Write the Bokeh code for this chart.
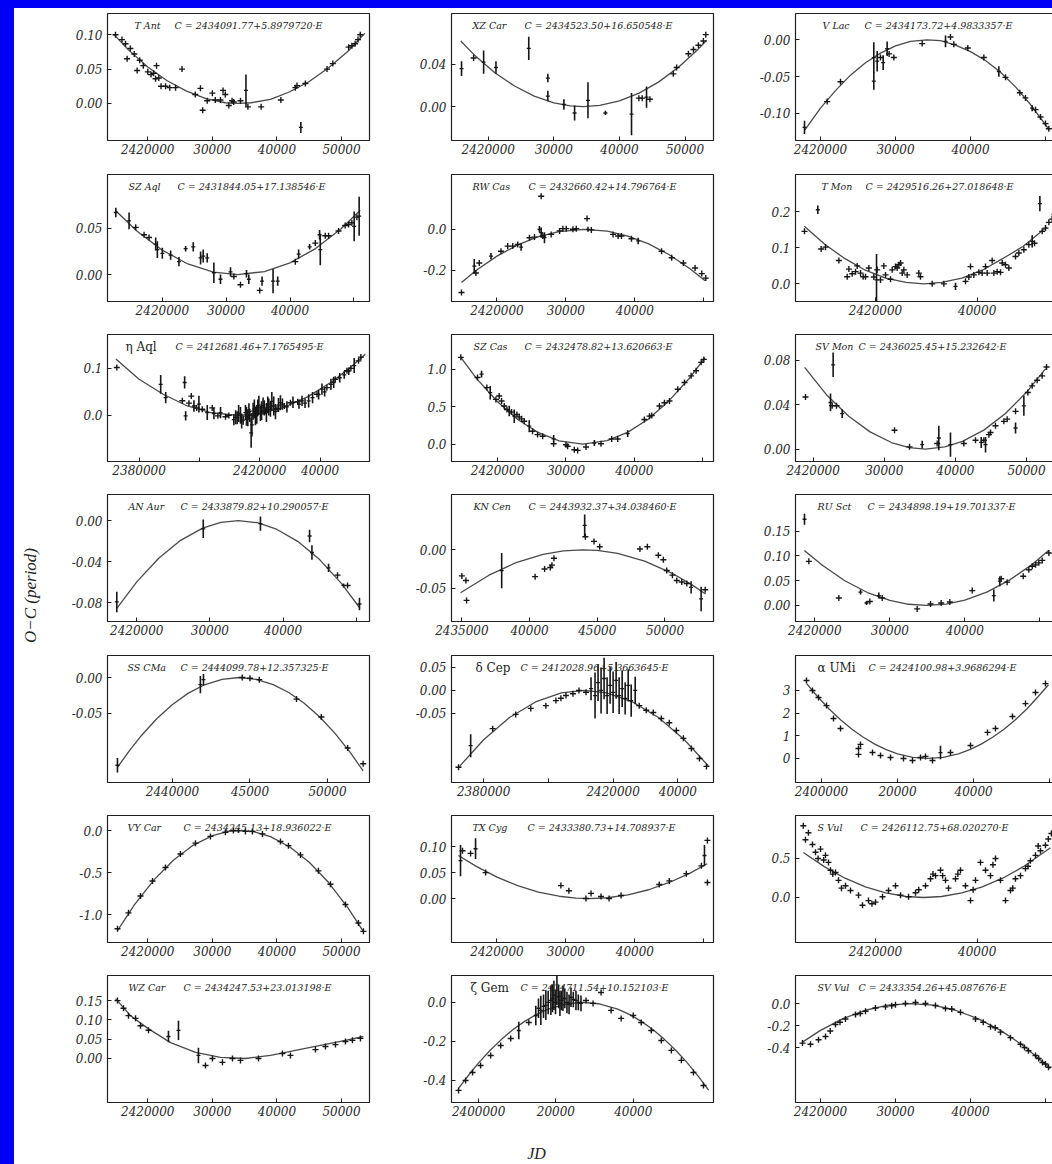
import math
from bokeh.plotting import figure
from bokeh.models import Range1d, FixedTicker, Label
from bokeh.layouts import row, column
from bokeh.embed import file_html
from bokeh.resources import INLINE

# ---------------- data (JD values are JD - 2400000) ----------------
TANT_JD = [15000,16000,16550,16800,17300,17900,18350,18750,19300,20000,20500,20900,21200,21350,21700,22050,22750,23400,24300,25300,27350,28150,28500,29200,30000,30450,31250,31650,32000,32550,33050,33300,34350,35500,37550,40600,42850,43100,44400,47750,48650,51100,51600,52100,52550,52900]
TANT_OC = [0.100,0.093,0.087,0.065,0.080,0.072,0.048,0.063,0.055,0.046,0.042,0.044,0.036,0.055,0.037,0.025,0.025,0.023,0.023,0.050,0.013,0.022,-0.010,0.004,0.015,0.005,0.005,0.019,0.013,-0.003,0.004,0.002,0.004,-0.005,-0.005,0.005,0.023,0.026,0.029,0.050,0.058,0.082,0.084,0.087,0.093,0.100]
TANT_BJD = [35200, 43700]
TANT_BOC = [0.019, -0.035]
TANT_BERR = [0.023, 0.008]
TANT_FJD = [14700,17000,20000,23000,26000,29000,32000,34100,36000,39000,42000,45000,48000,51000,53600]
TANT_FOC = [0.101,0.078,0.053,0.033,0.018,0.007,0.001,0.000,0.001,0.006,0.017,0.032,0.052,0.076,0.102]

XZCAR_JD = [17760,42960,43470,44640,48210,48720,50510,51280,52040,52800,53160]
XZCAR_OC = [0.046,0.008,0.008,0.007,0.031,0.037,0.050,0.054,0.058,0.062,0.068]
XZCAR_BJD = [15920,19290,21170,26170,29080,29080,31530,33160,35200,37860,41840,44130]
XZCAR_BOC = [0.036,0.042,0.037,0.055,0.027,0.010,0.002,-0.006,0.006,-0.006,-0.007,0.009]
XZCAR_BERR = [0.007,0.011,0.006,0.011,0.004,0.005,0.005,0.007,0.017,0.002,0.020,0.010]
XZCAR_FJD = [15800,18000,21000,24000,27000,30000,32500,34500,37000,40000,43000,46000,49000,52000,53300]
XZCAR_FOC = [0.062,0.048,0.032,0.0195,0.010,0.0036,0.0007,0.0,0.0011,0.0054,0.0128,0.0234,0.0373,0.0543,0.0627]

VLAC_JD = [20890,22670,28000,29150,29780,33560,37330,37780,39640,41780,44670,46580,47330,48670,49330,50000,50440]
VLAC_OC = [-0.084,-0.057,-0.024,-0.019,-0.024,-0.005,0.004,-0.006,-0.011,-0.024,-0.051,-0.072,-0.079,-0.095,-0.105,-0.114,-0.121]
VLAC_BJD = [17870,27110,27110,27560,28360,28890,36670,43780,48220]
VLAC_BOC = [-0.119,-0.056,-0.024,-0.029,-0.031,-0.012,-0.002,-0.043,-0.093]
VLAC_BERR = [0.009,0.012,0.021,0.014,0.010,0.010,0.008,0.007,0.004]
VLAC_FJD = [17900,20000,22000,24000,26000,28000,30000,32000,34200,36000,38000,40000,42000,44000,46000,48000,50400]
VLAC_FOC = [-0.123,-0.093,-0.069,-0.048,-0.031,-0.018,-0.008,-0.002,0.0,-0.001,-0.007,-0.016,-0.028,-0.044,-0.064,-0.088,-0.121]

SZAQL_JD = [15830,17140,17920,31200,32240,35260,40830,43960,45520,46040,47600,48640,49170,49690,50470]
SZAQL_OC = [0.051,0.043,0.040,-0.002,-0.011,-0.017,0.014,0.034,0.042,0.042,0.047,0.053,0.054,0.056,0.062]
SZAQL_BJD = [12710,14790,18960,19220,20000,21300,22600,23650,24840,25990,26400,27030,28070,29110,30680,33180,33540,35620,37340,38070,41350,43070,44630,44740,50050,50830]
SZAQL_BOC = [0.067,0.058,0.033,0.027,0.023,0.021,0.014,0.028,0.030,0.018,0.020,0.018,0.002,-0.005,0.003,0.001,-0.005,-0.007,-0.007,-0.007,0.022,0.030,0.043,0.027,0.052,0.063]
SZAQL_BERR = [0.005,0.009,0.007,0.009,0.006,0.005,0.005,0.003,0.005,0.007,0.007,0.005,0.011,0.005,0.005,0.004,0.005,0.005,0.013,0.005,0.005,0.003,0.005,0.017,0.016,0.021]
SZAQL_FJD = [12700,16000,20000,24000,28000,31800,36000,40000,44000,48000,51000]
SZAQL_FOC = [0.0688,0.0471,0.0263,0.0115,0.0027,0.0,0.0033,0.0127,0.0281,0.0495,0.0695]

RWCAS_JD = [14850,16940,17430,20580,21550,22280,23010,24710,25440,26650,26410,27860,29080,29560,30050,31020,31500,33060,33690,36840,37570,38060,39510,43880,45340,47040,48740,49710,50290]
RWCAS_OC = [-0.308,-0.213,-0.164,-0.107,-0.082,-0.082,-0.074,-0.041,-0.038,-0.033,0.161,-0.025,-0.008,0.003,0.003,0.0,0.003,0.052,-0.003,-0.025,-0.033,-0.033,-0.046,-0.107,-0.139,-0.164,-0.189,-0.216,-0.238]
RWCAS_BJD = [16700,19130,23500,26160,26410,26890,33200,40480]
RWCAS_BOC = [-0.180,-0.131,-0.087,0.0,-0.016,-0.041,0.0,-0.057]
RWCAS_BERR = [0.035,0.015,0.018,0.016,0.025,0.027,0.012,0.016]
RWCAS_FJD = [14850,17000,20000,23000,26000,29000,32660,36000,39000,42000,45000,48000,50200]
RWCAS_FOC = [-0.259,-0.200,-0.131,-0.076,-0.036,-0.011,0.0,-0.009,-0.033,-0.071,-0.124,-0.192,-0.251]

TMON_JD = [6030,9310,10160,12790,14430,14760,15410,16070,16390,17050,17570,18030,18690,19670,20330,20980,21640,21970,22950,23280,23930,24260,24590,24920,25250,25570,26230,28520,28850,31150,33440,37700,38360,38690,39340,40330,40980,41640,41970,42950,43280,43930,44590,44920,45570,46230,47540,48200,49180,50160,51280,52790,53440,54100,54750,55210]
TMON_OC = [0.146,0.097,0.102,0.065,0.020,0.041,0.028,0.034,0.050,0.030,0.020,0.020,0.044,0.019,0.039,0.011,0.050,0.025,0.013,0.039,0.048,0.044,0.053,0.058,0.030,0.039,0.025,0.030,0.020,0.000,0.000,0.007,0.019,0.048,0.025,0.032,0.030,0.048,0.030,0.065,0.030,0.034,0.032,0.058,0.053,0.044,0.076,0.086,0.095,0.109,0.113,0.146,0.155,0.171,0.180,0.193]
TMON_BJD = [8650,20200,35740,50820,52330]
TMON_BOC = [0.206,0.011,-0.007,0.118,0.223]
TMON_BERR = [0.012,0.072,0.010,0.017,0.021]
TMON_FJD = [6000,10000,14000,18000,22000,26000,29500,33000,37000,41000,45000,49000,53700]
TMON_FOC = [0.160,0.110,0.070,0.038,0.016,0.004,0.0,0.004,0.016,0.038,0.070,0.104,0.158]

EAQL_JD = [-27380,-5670,-3470,-2700,-930,940,4240,6120,8650,9750,21880,25730,28160,30140,32570,38960,42260,45020,48880,50200,52730,53510]
EAQL_OC = [0.102,0.031,0.026,0.041,0.016,0.013,0.016,-0.001,-0.003,0.0,0.009,0.014,0.020,0.027,0.029,0.045,0.059,0.077,0.095,0.100,0.116,0.124]
EAQL_BJD = [-12840,-11180,-4900,-4570,-1820,-170,2590,4800,7000,11410,12510,13610,14490,15260,16040,16700,17140,17800,18570,19340,20220,21100,22650,23530,24630,26840,34000,36200,40610,43590,51300,
            12000,13000,14000,15600,16400,17400,18200,19000,19700,20600,21500,22200,23000,24000,25200,26200,27500,29000,31000,33000,35000,37500,39500,41500,44500,46500,48000,49500]
EAQL_BOC = [0.066,0.038,0.070,-0.001,0.020,0.024,0.006,0.004,0.006,-0.009,-0.005,0.0,-0.010,0.006,-0.005,0.0,-0.037,0.009,-0.001,0.016,0.004,0.020,0.024,0.013,0.020,0.027,0.031,0.031,0.056,0.066,0.106,
            -0.004,0.004,-0.012,-0.002,0.008,-0.020,0.014,0.002,0.022,0.010,0.016,0.006,0.018,0.030,0.008,0.022,0.024,0.018,0.028,0.024,0.026,0.038,0.044,0.050,0.070,0.080,0.086,0.094]
EAQL_BERR = [0.020,0.012,0.013,0.010,0.012,0.018,0.016,0.012,0.012,0.012,0.014,0.018,0.010,0.016,0.018,0.014,0.032,0.018,0.020,0.018,0.016,0.018,0.016,0.016,0.020,0.016,0.011,0.014,0.012,0.012,0.016,
             0.015,0.018,0.016,0.020,0.018,0.025,0.020,0.020,0.020,0.020,0.016,0.020,0.018,0.020,0.016,0.015,0.012,0.012,0.012,0.010,0.010,0.012,0.010,0.010,0.012,0.010,0.008,0.008]
EAQL_FJD = [-27700,-20000,-12000,-4000,4000,12700,20000,28000,36000,44000,50000,55000]
EAQL_FOC = [0.120,0.077,0.045,0.020,0.0056,0.0,0.0039,0.017,0.040,0.072,0.102,0.130]

SZCAS_JD = [14630,17070,18440,19760,20240,20590,20980,21370,22050,22830,23170,23510,23900,25120,25850,26590,28200,30000,30240,31220,31710,32930,35120,36680,37560,41460,42200,42540,43660,44390,45120,46340,47320,48290,49020,49760,50150]
SZCAS_OC = [1.157,0.888,0.753,0.596,0.641,0.574,0.507,0.462,0.426,0.395,0.363,0.336,0.305,0.170,0.126,0.103,0.004,-0.010,-0.030,-0.076,-0.085,-0.040,0.004,0.067,0.067,0.327,0.372,0.381,0.507,0.552,0.574,0.731,0.821,0.910,0.978,1.090,1.130]
SZCAS_BJD = [17660,18930,21710,22440,24630,28200,34150,39020]
SZCAS_BOC = [0.933,0.686,0.440,0.372,0.238,0.070,0.013,0.139]
SZCAS_BERR = [0.045,0.09,0.07,0.09,0.08,0.05,0.04,0.045]
SZCAS_FJD = [14600,17000,20000,23000,26000,29000,32450,36000,39000,42000,45000,48000,50300]
SZCAS_FOC = [1.16,0.866,0.565,0.324,0.151,0.043,0.0,0.046,0.156,0.331,0.572,0.875,1.15]

SVMON_JD = [18920,22670,23280,31440,33550,37440,41190,42830,44000,44710,44940,45640,46820,47280,48460,50190,50800,51500,52200,52820]
SVMON_OC = [0.047,0.039,0.039,0.017,0.002,0.005,0.005,0.008,0.008,0.013,0.015,0.021,0.025,0.027,0.034,0.051,0.057,0.062,0.066,0.074]
SVMON_BJD = [22810,22440,24080,35330,37670,39310,43630,44240,48460,49630]
SVMON_BOC = [0.076,0.042,0.032,0.004,0.010,0.004,0.006,0.004,0.019,0.039]
SVMON_BERR = [0.011,0.008,0.004,0.0035,0.011,0.011,0.005,0.007,0.005,0.009]
SVMON_FJD = [18800,22000,25000,28000,31000,33500,35800,38500,41000,44000,47000,50000,52700]
SVMON_FOC = [0.0736,0.048,0.0296,0.0155,0.0059,0.0013,0.0,0.0019,0.0069,0.0171,0.0319,0.0512,0.0726]

ANAUR_JD = [47450,48820]
ANAUR_OC = [-0.053,-0.063]
ANAUR_BJD = [17270,29090,36910,43630,43950,46220,48270,50450]
ANAUR_BOC = [-0.079,-0.008,-0.003,-0.015,-0.031,-0.046,-0.063,-0.081]
ANAUR_BERR = [0.010,0.009,0.007,0.006,0.007,0.004,0.002,0.006]
ANAUR_FJD = [17300,20000,23000,26000,29000,31500,33900,36500,39000,42000,45000,48000,50500]
ANAUR_FOC = [-0.085,-0.0595,-0.0366,-0.0192,-0.0074,-0.0018,0.0,-0.0021,-0.0080,-0.0202,-0.0379,-0.0612,-0.0849]

KNCEN_JD = [35000,35300,35350,40410,41110,41530,41650,41800,44120,44760,45180,48150,48700,49510,49880,50130,50550,50870,51240,51610,52970]
KNCEN_OC = [-0.034,-0.040,-0.066,-0.035,-0.025,-0.023,-0.020,-0.011,0.017,0.011,0.004,0.001,0.004,-0.007,-0.013,-0.027,-0.033,-0.040,-0.042,-0.044,-0.052]
KNCEN_BJD = [37940,44070,51930,52670]
KNCEN_BOC = [-0.027,0.032,-0.049,-0.064]
KNCEN_BERR = [0.023,0.014,0.008,0.016]
KNCEN_FJD = [34900,37000,39000,41000,42500,43900,45000,46500,48500,50500,52000,53000]
KNCEN_FOC = [-0.056,-0.0331,-0.0167,-0.0059,-0.0014,0.0,-0.0008,-0.0047,-0.0147,-0.0303,-0.0457,-0.0576]

RUSCT_JD = [19200,23200,27330,28980,33640,35420,36840,38000,40980,44840,45640,47780,48530,48980,49420,49860,50310,51200]
RUSCT_OC = [0.089,0.015,0.008,0.015,-0.007,0.003,0.005,0.007,0.030,0.054,0.047,0.059,0.072,0.079,0.082,0.086,0.091,0.106]
RUSCT_BJD = [18620,26090,26890,28530,43860,44660]
RUSCT_BOC = [0.174,0.027,0.005,0.020,0.020,0.049]
RUSCT_BERR = [0.011,0.005,0.004,0.006,0.012,0.010]
RUSCT_FJD = [18600,21000,24000,27000,30000,32500,34900,37500,40000,43000,46000,49000,51200]
RUSCT_FOC = [0.111,0.081,0.0498,0.0261,0.0101,0.0024,0.0,0.0028,0.0109,0.0275,0.0516,0.0833,0.1113]

SSCMA_JD = [44500,45000,45600,48000,49600,51300,52300]
SSCMA_OC = [0.000,-0.001,-0.003,-0.030,-0.055,-0.098,-0.120]
SSCMA_BJD = [36450,41800,42000]
SSCMA_BOC = [-0.122,-0.010,-0.003]
SSCMA_BERR = [0.010,0.012,0.008]
SSCMA_FJD = [36450,37200,38000,39000,40000,41000,42000,43200,44300,45400,46500,47500,48500,49500,50500,51500,52300]
SSCMA_FOC = [-0.125,-0.1023,-0.0806,-0.0570,-0.0375,-0.0221,-0.0107,-0.0025,0.0,-0.0025,-0.0098,-0.0208,-0.0358,-0.0549,-0.078,-0.1052,-0.130]

DCEP_JD = [-27750,-17200,-10100,-5430,-780,2320,3870,5420,7590,9450,11620,28050,30220,32390,34870,37350,39520,41690,44170,46650,48820]
DCEP_OC = [-0.167,-0.083,-0.052,-0.039,-0.033,-0.022,-0.017,-0.011,-0.007,0.0,-0.004,-0.033,-0.043,-0.048,-0.061,-0.070,-0.087,-0.104,-0.126,-0.148,-0.165]
DCEP_BJD = [-24000,13170,14410,15340,16270,17200,18130,19060,19990,20920,21850,22780,23710,24640,25570,26810]
DCEP_BOC = [-0.120,0.004,-0.011,0.017,0.0,0.026,-0.011,0.011,-0.004,0.022,-0.011,0.004,-0.017,0.011,-0.022,0.0]
DCEP_BERR = [0.025,0.025,0.050,0.040,0.050,0.045,0.040,0.040,0.045,0.040,0.040,0.040,0.035,0.035,0.035,0.030]
DCEP_FJD = [-27700,-20000,-12000,-4000,4000,11000,18000,26000,34000,42000,49400]
DCEP_FOC = [-0.167,-0.107,-0.0588,-0.025,-0.0054,0.0,-0.0054,-0.025,-0.0588,-0.107,-0.164]

AUMI_JD = [-3950,-2370,-790,1320,3160,5000,9730,9730,10260,13410,15520,18150,21570,23930,26040,27350,29190,33930,39190,43660,45760,50230,53650,56280,58910]
AUMI_OC = [3.44,3.0,2.69,2.33,1.76,1.32,0.44,0.18,0.62,0.26,0.13,0.04,0.0,-0.09,0.04,0.09,-0.09,0.26,0.57,1.15,1.32,1.85,2.42,2.91,3.30]
AUMI_BJD = [31300]
AUMI_BOC = [0.26]
AUMI_BERR = [0.30]
AUMI_FJD = [-3900,-1000,2000,5000,8000,11000,14000,17000,20000,24000,28000,32000,36000,39000,42000,45000,48000,51000,54000,57000,59700]
AUMI_FOC = [3.30,2.72,2.18,1.71,1.29,0.933,0.633,0.391,0.207,0.052,0.0,0.052,0.207,0.391,0.633,0.933,1.29,1.71,2.18,2.73,3.25]

VYCAR_JD = [15310,17010,18870,20730,22740,25060,27380,29700,32020,33260,35120,36200,37750,40540,41780,43640,46420,48280,50600,52620,53390]
VYCAR_OC = [-1.17,-0.98,-0.78,-0.60,-0.44,-0.28,-0.15,-0.07,-0.02,0.00,-0.01,-0.01,-0.04,-0.13,-0.18,-0.29,-0.48,-0.64,-0.88,-1.10,-1.20]
VYCAR_BJD = [34040]
VYCAR_BOC = [0.0]
VYCAR_BERR = [0.03]
VYCAR_FJD = [15300,18000,21000,24000,27000,30000,32500,34300,36500,39000,42000,45000,48000,51000,53400]
VYCAR_FOC = [-1.191,-0.877,-0.584,-0.350,-0.176,-0.061,-0.0107,0.0,-0.016,-0.073,-0.196,-0.378,-0.619,-0.920,-1.204]

TXCYG_JD = [15000,16170,18350,29270,30430,32910,33640,35090,36260,38000,43540,45000,47470,49660,50530,50530]
TXCYG_OC = [0.092,0.087,0.050,0.025,0.015,0.000,0.010,0.004,0.000,0.006,0.027,0.034,0.048,0.063,0.112,0.031]
TXCYG_BJD = [14710,16890,50100]
TXCYG_BOC = [0.073,0.096,0.083]
TXCYG_BERR = [0.030,0.020,0.020]
TXCYG_FJD = [14400,17000,20000,23000,26000,29000,31500,33400,36000,39000,42000,45000,48000,50500]
TXCYG_FOC = [0.083,0.062,0.0413,0.0249,0.0126,0.0045,0.0008,0.0,0.0016,0.0072,0.017,0.031,0.049,0.067]

SVUL_JD = [6220,7600,9180,10160,10750,11150,12130,12720,14100,15080,16660,17440,18620,20000,21380,22560,23940,24920,27870,29840,30820,31810,32790,33770,34360,35740,36720,37700,38690,39670,40650,41640,42620,43600,44580,45570,46550,47530,48520,49500,50480,51470,52450,53430,
           5800,6800,8200,8700,9800,11600,13300,19300,26500,28500,31300,33200,36200,39200,43100,47000,50000,52000,54000,54600]
SVUL_OC = [0.74,0.68,0.62,0.54,0.45,0.35,0.32,0.22,0.15,0.09,0.03,-0.10,-0.04,-0.06,0.01,0.09,0.15,0.03,0.06,0.15,0.24,0.28,0.35,0.22,0.12,0.24,0.35,0.15,-0.04,0.22,0.45,0.35,0.28,0.50,0.22,-0.04,0.09,0.24,0.28,0.37,0.47,0.54,0.60,0.67,
           0.92,0.83,0.58,0.50,0.48,0.30,0.12,-0.08,0.01,0.10,0.30,0.28,0.30,0.10,0.42,0.12,0.40,0.66,0.75,0.82]
SVUL_BJD = []
SVUL_BOC = []
SVUL_BERR = []
SVUL_FJD = [5800,10000,14000,18000,22000,26000,29500,33000,37000,41000,45000,49000,54400]
SVUL_FOC = [0.577,0.392,0.247,0.136,0.058,0.0126,0.0,0.0126,0.058,0.136,0.247,0.392,0.638]

WZCAR_JD = [15310,16240,17010,18100,18870,20110,28930,30010,31560,33110,34350,37140,40850,42090,45960,47510,49060,50600,51690,52930]
WZCAR_OC = [0.150,0.130,0.111,0.104,0.085,0.073,-0.018,0.0,-0.010,0.0,-0.005,0.0,0.013,0.008,0.023,0.031,0.036,0.044,0.047,0.052]
WZCAR_BJD = [23200,24750,27840]
WZCAR_BOC = [0.057,0.073,0.008]
WZCAR_BERR = [0.015,0.025,0.020]
WZCAR_FJD = [15000,17320,20000,23520,27400,31250,35130,39000,42860,46730,50600,53390]
WZCAR_FOC = [0.155,0.111,0.078,0.041,0.016,0.003,0.0,0.008,0.021,0.034,0.047,0.057]

ZGEM_JD = [-5190,-3370,-1560,520,3120,5710,8310,12990,27790,29610,31680,34280,36880,40000,42080,44670,47270,49870,52460,55580,58180]
ZGEM_OC = [-0.451,-0.400,-0.359,-0.323,-0.272,-0.221,-0.185,-0.103,0.010,-0.005,0.051,-0.041,-0.082,-0.067,-0.103,-0.144,-0.195,-0.246,-0.297,-0.359,-0.426]
ZGEM_BJD = [10390,14800,16100,17400,18700,19480,20260,21040,21820,22860,23900,25190,26490,
            15500,16800,18000,19100,19900,20700,21400,22300,23400,24500,25800]
ZGEM_BOC = [-0.144,-0.067,-0.041,-0.015,0.010,0.036,0.062,-0.005,0.021,0.0,0.026,0.010,-0.005,
            -0.03,-0.02,0.0,0.02,0.0,0.03,0.01,0.02,-0.01,0.015,0.0]
ZGEM_BERR = [0.045,0.050,0.075,0.075,0.075,0.075,0.075,0.065,0.065,0.055,0.050,0.050,0.040,
             0.05,0.06,0.06,0.07,0.06,0.06,0.05,0.05,0.05,0.04,0.04]
ZGEM_FJD = [-5200,-2000,0,3000,6000,9000,12000,15000,18000,23000,27000,31000,36000,39000,42000,45000,48000,51000,54000,57000,59500]
ZGEM_FOC = [-0.441,-0.358,-0.310,-0.245,-0.188,-0.138,-0.0958,-0.0613,-0.0345,-0.0068,0.0,-0.0068,-0.0345,-0.0613,-0.0958,-0.138,-0.188,-0.245,-0.310,-0.383,-0.450]

SVVUL_JD = [17600,18670,19740,20670,22000,23330,24670,26000,27330,28670,30000,31330,32670,34000,35330,36670,38670,40670,42670,44000,45330,46670,47730,48670,49600,50400,
            21300,22600,25300,29500,37500,41700,43300,47200,49100,50000]
SVVUL_OC = [-0.36,-0.37,-0.33,-0.30,-0.19,-0.14,-0.10,-0.07,-0.04,-0.03,-0.01,0.0,0.009,0.0,-0.018,-0.045,-0.08,-0.14,-0.21,-0.26,-0.31,-0.37,-0.43,-0.473,-0.536,-0.58,
            -0.25,-0.17,-0.09,-0.02,-0.05,-0.17,-0.22,-0.40,-0.50,-0.55]
SVVUL_BJD = []
SVVUL_BOC = []
SVVUL_BERR = []
SVVUL_FJD = [17600,20000,23000,26000,29000,32000,35000,38000,41000,44000,47000,50660]
SVVUL_FOC = [-0.351,-0.244,-0.137,-0.061,-0.0152,0.0,-0.0152,-0.061,-0.137,-0.244,-0.381,-0.590]

# tick sets
X_A = [20000, 30000, 40000, 50000]
X_A_LAB = ["2420000", "30000", "40000", "50000"]
X_A_LAB3 = ["2420000", "30000", "40000", ""]

# ---------------- panel table ----------------
PANELS = [
    dict(name="T Ant", f="C = 2434091.77+5.8979720\u00b7E", d="TANT", xr=(13760, 54330), yr=(-0.054, 0.131),
         xt=X_A, xl=X_A_LAB, yt=[0.0, 0.05, 0.10], yl=["0.00", "0.05", "0.10"], ndx=27, fdx=67),
    dict(name="XZ Car", f="C = 2434523.50+16.650548\u00b7E", d="XZCAR", xr=(14390, 54340), yr=(-0.032, 0.088),
         xt=X_A, xl=X_A_LAB, yt=[0.0, 0.04], yl=["0.00", "0.04"], ndx=21, fdx=73),
    dict(name="V Lac", f="C = 2434173.72+4.9833357\u00b7E", d="VLAC", xr=(16670, 51600), yr=(-0.137, 0.036),
         xt=X_A, xl=X_A_LAB3, yt=[-0.10, -0.05, 0.0], yl=["-0.10", "-0.05", "0.00"], ndx=27, fdx=69),
    dict(name="SZ Aql", f="C = 2431844.05+17.138546\u00b7E", d="SZAQL", xr=(11410, 52450), yr=(-0.029, 0.108),
         xt=X_A, xl=X_A_LAB3, yt=[0.0, 0.05], yl=["0.00", "0.05"], ndx=21, fdx=70),
    dict(name="RW Cas", f="C = 2432660.42+14.796764\u00b7E", d="RWCAS", xr=(13400, 51410), yr=(-0.352, 0.267),
         xt=X_A, xl=X_A_LAB3, yt=[-0.2, 0.0], yl=["-0.2", "0.0"], ndx=21, fdx=77),
    dict(name="T Mon", f="C = 2429516.26+27.018648\u00b7E", d="TMON", xr=(4260, 55800), yr=(-0.049, 0.304),
         xt=[20000, 40000], xl=["2420000", "40000"], yt=[0.0, 0.1, 0.2], yl=["0.0", "0.1", "0.2"], ndx=26, fdx=70),
    dict(name="\u03b7 Aql", f="C = 2412681.46+7.1765495\u00b7E", d="EAQL", xr=(-30470, 56370), yr=(-0.098, 0.172),
         xt=[-20000, 0, 20000, 40000], xl=["2380000", "", "2420000", "40000"], yt=[0.0, 0.1], yl=["0.0", "0.1"],
         ndx=18, fdx=68, big=True),
    dict(name="SZ Cas", f="C = 2432478.82+13.620663\u00b7E", d="SZCAS", xr=(13270, 51560), yr=(-0.233, 1.462),
         xt=X_A, xl=X_A_LAB3, yt=[0.0, 0.5, 1.0], yl=["0.0", "0.5", "1.0"], ndx=22, fdx=73),
    dict(name="SV Mon", f="C = 2436025.45+15.232642\u00b7E", d="SVMON", xr=(17515, 54360), yr=(-0.0112, 0.1033),
         xt=X_A, xl=X_A_LAB, yt=[0.0, 0.04, 0.08], yl=["0.00", "0.04", "0.08"], ndx=20, fdx=63),
    dict(name="AN Aur", f="C = 2433879.82+10.290057\u00b7E", d="ANAUR", xr=(16000, 51820), yr=(-0.098, 0.0253),
         xt=X_A, xl=X_A_LAB3, yt=[-0.08, -0.04, 0.0], yl=["-0.08", "-0.04", "0.00"], ndx=21, fdx=73),
    dict(name="KN Cen", f="C = 2443932.37+34.038460\u00b7E", d="KNCEN", xr=(34234, 53584), yr=(-0.0935, 0.0722),
         xt=[35000, 40000, 45000, 50000], xl=["2435000", "40000", "45000", "50000"], yt=[-0.05, 0.0],
         yl=["-0.05", "0.00"], ndx=22, fdx=77),
    dict(name="RU Sct", f="C = 2434898.19+19.701337\u00b7E", d="RUSCT", xr=(17422, 52350), yr=(-0.0324, 0.224),
         xt=X_A, xl=X_A_LAB3, yt=[0.0, 0.05, 0.10, 0.15], yl=["0.00", "0.05", "0.10", "0.15"], ndx=22, fdx=72),
    dict(name="SS CMa", f="C = 2444099.78+12.357325\u00b7E", d="SSCMA", xr=(35808, 52709), yr=(-0.146, 0.0306),
         xt=[40000, 45000, 50000], xl=["2440000", "45000", "50000"], yt=[-0.05, 0.0], yl=["-0.05", "0.00"],
         ndx=20, fdx=73),
    dict(name="\u03b4 Cep", f="C = 2412028.96+5.3663645\u00b7E", d="DCEP", xr=(-29920, 50990), yr=(-0.20, 0.076),
         xt=[-20000, 0, 20000, 40000], xl=["2380000", "", "2420000", "40000"], yt=[-0.05, 0.0, 0.05],
         yl=["-0.05", "0.00", "0.05"], ndx=24, fdx=69, big=True),
    dict(name="\u03b1 UMi", f="C = 2424100.98+3.9686294\u00b7E", d="AUMI", xr=(-6840, 62070), yr=(-1.06, 4.54),
         xt=[0, 20000, 40000, 60000], xl=["2400000", "20000", "40000", ""], yt=[0, 1, 2, 3],
         yl=["0", "1", "2", "3"], ndx=22, fdx=73, big=True),
    dict(name="VY Car", f="C = 2434245.13+18.936022\u00b7E", d="VYCAR", xr=(13760, 54330), yr=(-1.333, 0.179),
         xt=X_A, xl=X_A_LAB, yt=[-1.0, -0.5, 0.0], yl=["-1.0", "-0.5", "0.0"], ndx=20, fdx=76),
    dict(name="TX Cyg", f="C = 2433380.73+14.708937\u00b7E", d="TXCYG", xr=(13400, 51410), yr=(-0.0846, 0.160),
         xt=X_A, xl=X_A_LAB3, yt=[0.0, 0.05, 0.10], yl=["0.00", "0.05", "0.10"], ndx=21, fdx=76),
    dict(name="S Vul", f="C = 2426112.75+68.020270\u00b7E", d="SVUL", xr=(4260, 55800), yr=(-0.577, 1.051),
         xt=[20000, 40000], xl=["2420000", "40000"], yt=[0.0, 0.5], yl=["0.0", "0.5"], ndx=22, fdx=65),
    dict(name="WZ Car", f="C = 2434247.53+23.013198\u00b7E", d="WZCAR", xr=(13760, 54330), yr=(-0.114, 0.215),
         xt=X_A, xl=X_A_LAB, yt=[0.0, 0.05, 0.10, 0.15], yl=["0.00", "0.05", "0.10", "0.15"], ndx=21, fdx=76),
    dict(name="\u03b6 Gem", f="C = 2424711.54+10.152103\u00b7E", d="ZGEM", xr=(-7010, 60770), yr=(-0.513, 0.138),
         xt=[0, 20000, 40000], xl=["2400000", "20000", "40000"], yt=[-0.4, -0.2, 0.0], yl=["-0.4", "-0.2", "0.0"],
         ndx=19, fdx=69, big=True),
    dict(name="SV Vul", f="C = 2433354.26+45.087676\u00b7E", d="SVVUL", xr=(16670, 51600), yr=(-0.90, 0.255),
         xt=X_A, xl=X_A_LAB3, yt=[-0.4, -0.2, 0.0], yl=["-0.4", "-0.2", "0.0"], ndx=22, fdx=63),
]

# ---------------- layout constants ----------------
FRAME_W, FRAME_H = 262, 127
COL_W, LEFT, RIGHT, TOP = 344, 43, 39, 5
ROW_H = [161, 160, 160, 161, 160, 160, 157]
INK = "#161616"
SERIF = "DejaVu Serif"


def js_key(v):
    f = float(v)
    return str(int(f)) if f.is_integer() else repr(f)


def overrides(ticks, labels):
    o = {}
    for t, l in zip(ticks, labels):
        o[t] = l
        o[js_key(t)] = l
    return o


def make_panel(cfg, h):
    g = globals()
    d = cfg["d"]
    jd, oc = g[d + "_JD"], g[d + "_OC"]
    bjd, boc, berr = g[d + "_BJD"], g[d + "_BOC"], g[d + "_BERR"]
    fjd, foc = g[d + "_FJD"], g[d + "_FOC"]
    x0, x1 = cfg["xr"]
    y0, y1 = cfg["yr"]
    p = figure(width=COL_W, height=h, x_range=Range1d(x0, x1), y_range=Range1d(y0, y1),
               output_backend="svg", toolbar_location=None, tools="",
               min_border_left=LEFT, min_border_right=RIGHT, min_border_top=TOP,
               min_border_bottom=h - TOP - FRAME_H,
               background_fill_color="white", border_fill_color="white",
               outline_line_color="#202020", outline_line_width=1.2)
    p.xgrid.visible = False
    p.ygrid.visible = False
    p.line(fjd, foc, line_color="#4a4a4a", line_width=1.3)
    if bjd:
        lo = [o - e for o, e in zip(boc, berr)]
        hi = [o + e for o, e in zip(boc, berr)]
        p.segment(x0=bjd, y0=lo, x1=bjd, y1=hi, line_color=INK, line_width=1.6)
        p.scatter(bjd, boc, marker="dash", size=4, line_color=INK, line_width=1.3)
    p.scatter(jd, oc, marker="cross", size=6, line_color=INK, line_width=1.4)

    xa, ya = p.xaxis[0], p.yaxis[0]
    xa.ticker = FixedTicker(ticks=cfg["xt"])
    ya.ticker = FixedTicker(ticks=cfg["yt"])
    xa.major_label_overrides = overrides(cfg["xt"], cfg["xl"])
    ya.major_label_overrides = overrides(cfg["yt"], cfg["yl"])
    for ax in (xa, ya):
        ax.axis_line_color = None
        ax.major_tick_in = 4
        ax.major_tick_out = 0
        ax.major_tick_line_color = "#202020"
        ax.minor_tick_line_color = None
        ax.major_label_text_font = SERIF
        ax.major_label_text_font_style = "italic"
        ax.major_label_text_font_size = "12px"
        ax.major_label_text_color = "#2a2a2a"
    xa.major_label_standoff = 3
    ya.major_label_standoff = 5

    ty = y1 - (y1 - y0) * 12.0 / FRAME_H
    big = cfg.get("big", False)
    p.add_layout(Label(x=x0 + (x1 - x0) * cfg["ndx"] / FRAME_W, y=ty, text=cfg["name"],
                       text_font=SERIF, text_font_style="normal" if big else "italic",
                       text_font_size="12px" if big else "9.5px",
                       text_baseline="middle", text_color="#222222"))
    p.add_layout(Label(x=x0 + (x1 - x0) * cfg["fdx"] / FRAME_W, y=ty, text=cfg["f"],
                       text_font=SERIF, text_font_style="italic", text_font_size="9.5px",
                       text_baseline="middle", text_color="#222222"))
    return p


rows = []
for r in range(7):
    rows.append(row(*[make_panel(PANELS[3 * r + c], ROW_H[r]) for c in range(3)], spacing=0))
grid = column(*rows, spacing=0)

TOTAL_H = sum(ROW_H)
ylab = figure(width=50, height=TOTAL_H, x_range=Range1d(0, 50), y_range=Range1d(0, TOTAL_H),
              output_backend="svg", toolbar_location=None, tools="", min_border=0,
              x_axis_type=None, y_axis_type=None, outline_line_color=None,
              background_fill_color="white", border_fill_color="white")
ylab.add_layout(Label(x=16, y=TOTAL_H - 587, text="O\u2212C (period)", angle=math.pi / 2,
                      text_align="center", text_baseline="middle", text_font="Liberation Serif",
                      text_font_style="italic", text_font_size="17px", text_color="#222222"))

TOTAL_W = 50 + 3 * COL_W
jdfig = figure(width=TOTAL_W, height=37, x_range=Range1d(0, TOTAL_W), y_range=Range1d(0, 37),
               output_backend="svg", toolbar_location=None, tools="", min_border=0,
               x_axis_type=None, y_axis_type=None, outline_line_color=None,
               background_fill_color="white", border_fill_color="white")
jdfig.add_layout(Label(x=522, y=11, text="JD", text_align="center", text_baseline="middle",
                       text_font="Liberation Serif", text_font_style="italic", text_font_size="16px",
                       text_color="#222222"))

page = column(row(ylab, grid, spacing=0), jdfig, spacing=0, styles={"background-color": "white"})

PAGE_TEMPLATE = """{% block postamble %}<style>
html, body { margin: 0 !important; background: #0000f6 !important; overflow: hidden !important; }
body { padding: 8px 0 0 14px !important; box-sizing: border-box; }
</style>{% endblock %}"""

open("out.html", "w").write(file_html(page, INLINE, title="O-C diagrams", template=PAGE_TEMPLATE))
